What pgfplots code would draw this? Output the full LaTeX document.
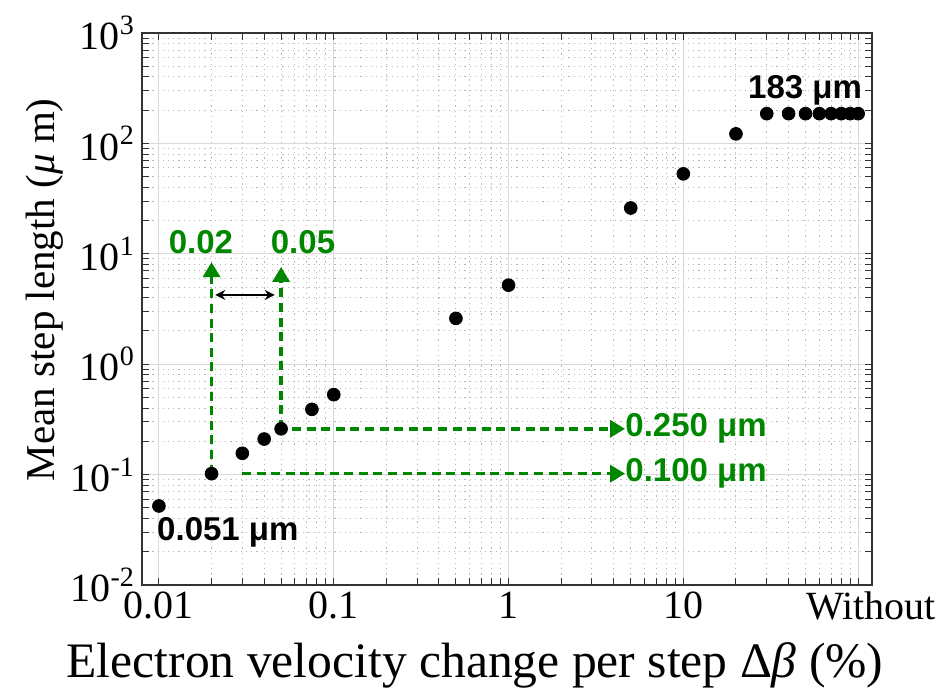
\documentclass[border=0pt]{standalone}
\usepackage{fontspec}
\setmainfont{Liberation Serif}
\newfontfamily\annfont{Liberation Sans}
\usepackage{pgfplots}
\pgfplotsset{compat=1.18}
\usetikzlibrary{arrows.meta}
\definecolor{anngreen}{RGB}{0,135,0}
\begin{document}
\begin{tikzpicture}
\useasboundingbox (-71pt,-56.5pt) rectangle (402pt,292.5pt);
\begin{axis}[
  at={(0pt,0pt)}, anchor=south west,
  scale only axis, width=365pt, height=276pt,
  xmode=log, ymode=log,
  xmin=0.008, xmax=120, ymin=0.01, ymax=1000,
  xtick={0.01,0.1,1,10,100},
  xticklabels={0.01,0.1,1,10,\hspace*{13pt}Without},
  ytick={0.01,0.1,1,10,100,1000},
  yticklabels={10\textsuperscript{-2},10\textsuperscript{-1},10\textsuperscript{0},10\textsuperscript{1},10\textsuperscript{2},10\textsuperscript{3}},
  tick label style={font=\fontsize{20}{23}\selectfont},
  grid=both,
  major grid style={black!15, line width=0.5pt},
  minor grid style={black!28, dash pattern=on 0.6pt off 2pt, line width=0.5pt},
  tick align=inside,
  major tick length=3.5pt, minor tick length=3.5pt,
  every tick/.style={black!80, line width=0.5pt},
  axis line style={black!80, line width=0.6pt},
  xlabel={Electron velocity change per step Δ\textit{β} (\%)},
  ylabel={Mean step length (\textit{μ} m)},
  xlabel style={font=\fontsize{24.8}{27}\selectfont, at={(axis description cs:0.5,0)}, anchor=center, yshift=-40pt, xshift=-16pt},
  ylabel style={font=\fontsize{20.5}{24}\selectfont, at={(axis description cs:-0.133,0.535)}, anchor=center},
  clip=false,
]
\addplot[only marks, mark=*, mark size=3.2pt, black] coordinates {
  (0.01,0.052) (0.02,0.102) (0.03,0.156) (0.04,0.21) (0.05,0.26)
  (0.075,0.39) (0.1,0.53) (0.5,2.6) (1,5.2) (5,26) (10,53) (20,122)
  (30,186) (40,186) (50,186) (60,186) (70,186) (80,186) (90,186) (100,186)
};
% green annotations
\draw[anngreen, line width=1.8pt, dash pattern=on 4.5pt off 2.8pt, -{Triangle[width=8.5pt,length=7.5pt]}]
  (axis cs:0.02,0.102) -- (axis cs:0.02,8.4);
\draw[anngreen, line width=1.8pt, dash pattern=on 4.5pt off 2.8pt, -{Triangle[width=8.5pt,length=7.5pt]}]
  (axis cs:0.05,0.26) -- (axis cs:0.05,7.6);
\draw[anngreen, line width=1.8pt, dash pattern=on 4.5pt off 2.8pt, -{Triangle[width=8.5pt,length=7.5pt]}]
  (axis cs:0.0577,0.26) -- (axis cs:4.64,0.26);
\draw[anngreen, line width=1.8pt, dash pattern=on 4.5pt off 2.8pt, -{Triangle[width=8.5pt,length=7.5pt]}]
  (axis cs:0.0299,0.102) -- (axis cs:4.64,0.102);
\draw[black, line width=1pt, {Stealth[length=5pt,width=5pt]}-{Stealth[length=5pt,width=5pt]}]
  (axis cs:0.021,4.24) -- (axis cs:0.046,4.24);
\node[anngreen, font=\annfont\bfseries\fontsize{16.5}{18}\selectfont] at (axis cs:0.0174,12.8) {0.02};
\node[anngreen, font=\annfont\bfseries\fontsize{16.5}{18}\selectfont] at (axis cs:0.0667,12.8) {0.05};
\node[anngreen, font=\annfont\bfseries\fontsize{16.5}{18}\selectfont, anchor=west, inner sep=0pt] at (axis cs:4.64,0.26) {0.250 μm};
\node[anngreen, font=\annfont\bfseries\fontsize{16.5}{18}\selectfont, anchor=west, inner sep=0pt] at (axis cs:4.64,0.102) {0.100 μm};
\node[black, font=\annfont\bfseries\fontsize{16.5}{18}\selectfont] at (axis cs:49.7,305) {183 μm};
\node[black, font=\annfont\bfseries\fontsize{16.5}{18}\selectfont] at (axis cs:0.0248,0.0302) {0.051 μm};
\end{axis}
\end{tikzpicture}
\end{document}
